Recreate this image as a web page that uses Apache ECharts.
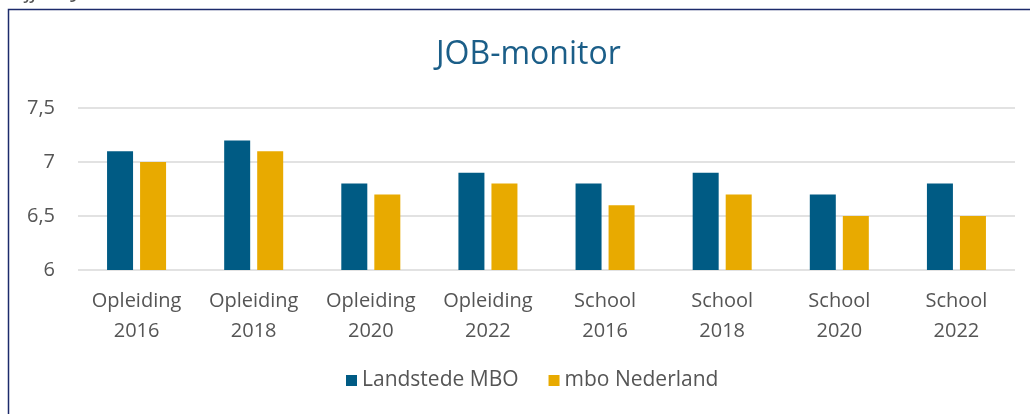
<!DOCTYPE html>
<html>
<head>
<meta charset="utf-8">
<script src="https://cdn.jsdelivr.net/npm/echarts@6/dist/echarts.min.js"></script>
<style>
  html, body { margin: 0; padding: 0; background: #fff; }
  #chart { width: 1030px; height: 414px; }
</style>
</head>
<body>
<div id="chart"></div>
<script>
// categorieen en cijfers
var categories = ['Opleiding\n2016', 'Opleiding\n2018', 'Opleiding\n2020', 'Opleiding\n2022',
                  'School\n2016', 'School\n2018', 'School\n2020', 'School\n2022'];
var landstede = [7.1, 7.2, 6.8, 6.9, 6.8, 6.9, 6.7, 6.8];
var mboNederland = [7.0, 7.1, 6.7, 6.8, 6.6, 6.7, 6.5, 6.5];
var yTicks = [6, 6.5, 7, 7.5];

var fontFam = '"Open Sans", "Noto Sans", sans-serif';

var chart = echarts.init(document.getElementById('chart'));
var option = {
  animation: false,
  title: {
    text: 'JOB-monitor',
    left: 431,
    top: 34,
    textStyle: { color: '#1b5e88', fontSize: 32, fontWeight: 'normal', fontFamily: fontFam }
  },
  // kader en afgesneden bijschrift
  graphic: [
    {
      type: 'rect',
      shape: { x: 8.5, y: 9.5, width: 1040, height: 420 },
      style: { fill: 'none', stroke: '#1c2b6b', lineWidth: 1.5 }
    },
    {
      type: 'text',
      x: 8, y: -19,
      style: {
        text: 'Cijfers JOB-monitor 2016-2022',
        fill: '#555', font: 'italic 22px ' + fontFam
      }
    }
  ],
  legend: {
    data: ['Landstede MBO', 'mbo Nederland'],
    bottom: 18,
    left: 341,
    itemWidth: 11,
    itemHeight: 11,
    itemGap: 30,
    icon: 'rect',
    textStyle: { color: '#555', fontSize: 21, fontFamily: fontFam }
  },
  grid: { left: 78, right: 15, top: 108, bottom: 144 },
  xAxis: {
    type: 'category',
    data: categories,
    axisLine: { show: false },
    axisTick: { show: false },
    axisLabel: { color: '#555', fontSize: 20, lineHeight: 30, margin: 16, fontFamily: fontFam, interval: 0 }
  },
  yAxis: {
    type: 'value',
    min: yTicks[0],
    max: yTicks[yTicks.length - 1],
    interval: 0.5,
    axisLine: { show: false },
    axisTick: { show: false },
    splitLine: { lineStyle: { color: '#d9d9d9', width: 1.5 } },
    axisLabel: {
      color: '#555', fontSize: 20, margin: 23, fontFamily: fontFam,
      formatter: function (v) { return String(v).replace('.', ','); }
    }
  },
  series: [
    {
      name: 'Landstede MBO',
      type: 'bar',
      data: landstede,
      barWidth: 26,
      barGap: '27%',
      itemStyle: { color: '#005b84' }
    },
    {
      name: 'mbo Nederland',
      type: 'bar',
      data: mboNederland,
      barWidth: 26,
      itemStyle: { color: '#e8aa00' }
    }
  ]
};
chart.setOption(option);
</script>
</body>
</html>
